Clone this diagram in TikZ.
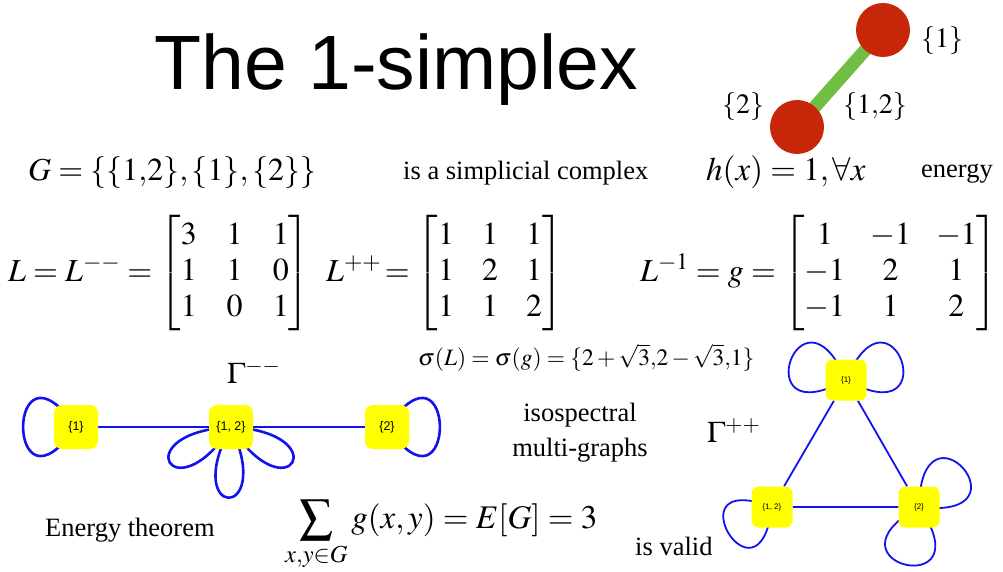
\documentclass[tikz,border=0pt]{standalone}
\usepackage{amsmath}
\usepackage{mathptmx}
\usepackage{fontspec}
\setmainfont{Liberation Serif}
\setsansfont{Liberation Sans}
\usetikzlibrary{backgrounds}
\definecolor{simpred}{RGB}{200,38,8}
\definecolor{simpgreen}{RGB}{113,190,69}
\definecolor{edgeblue}{RGB}{18,18,238}
\definecolor{vertyellow}{RGB}{255,255,0}
\setlength{\arraycolsep}{12.5pt}

\begin{document}
\begin{tikzpicture}[x=1pt, y=1pt, every node/.style={inner sep=0pt},
	txt/.style={anchor=base west, font=\fontsize{26.5}{35}\selectfont},
	mth/.style={anchor=base west, font=\fontsize{32}{36}\selectfont},
	dot/.style={circle, fill=simpred, minimum size=54pt},
	vert/.style={fill=vertyellow, rounded corners=8pt, minimum size=44pt, font=\sffamily\fontsize{12.5}{14}\selectfont},
	svert/.style={vert, minimum size=41pt, rounded corners=7pt, font=\sffamily\fontsize{8}{10}\selectfont},
	link/.style={edgeblue, line width=2.6pt},
	slink/.style={edgeblue, line width=1.8pt}]
	\useasboundingbox (0,0) rectangle (1003,-572);
	% Title and the simplex:
	\node[anchor=base west, font=\sffamily\fontsize{77}{80}\selectfont] (title) at (154,-90) {The 1-simplex};
	\node[dot] (v1) at (883,-30) {};
	\node[dot] (v2) at (797,-127) {};
	\node[font=\fontsize{28}{30}\selectfont] (l1) at (942,-41) {$\{1\}$};
	\node[font=\fontsize{28}{30}\selectfont] (l2) at (743,-107) {$\{2\}$};
	\node[font=\fontsize{28}{30}\selectfont] (l12) at (875,-107) {$\{1{,}2\}$};
	% Formulas and texts:
	\node[mth] (gset) at (28,-181) {$G=\{\{1{,}2\},\{1\},\{2\}\}$};
	\node[txt] (cplx) at (403,-180) {is a simplicial complex};
	\node[mth, font=\fontsize{33}{36}\selectfont] (hfun) at (706,-181) {$h(x)=1,\forall x$};
	\node[txt] (enrg) at (921,-178) {energy};
	\node[mth] (lmm) at (8,-281) {$\setlength{\arraycolsep}{15pt}L=L^{--}=\begin{bmatrix}3&1&1\\1&1&0\\1&0&1\end{bmatrix}$};
	\node[mth] (lpp) at (326,-281) {$\setlength{\arraycolsep}{14pt}L^{++}\!=\begin{bmatrix}1&1&1\\1&2&1\\1&1&2\end{bmatrix}$};
	\node[mth] (linv) at (640,-281) {$L^{-1}=g=\begin{bmatrix}1&-1&-1\\-1&2&1\\-1&1&2\end{bmatrix}$};
	\node[anchor=base west, font=\fontsize{23.5}{28}\selectfont] (spec) at (418,-365) {$\sigma(L)=\sigma(g)=\{2+\sqrt{3}{,}2-\sqrt{3}{,}1\}$};
	\node[anchor=base west, font=\fontsize{30}{32}\selectfont] (gmm) at (227,-383) {$\Gamma^{--}$};
	\node[anchor=base west, font=\fontsize{30}{32}\selectfont] (gpp) at (707,-442) {$\Gamma^{++}$};
	\node[font=\fontsize{26.5}{35}\selectfont, align=center] (iso) at (580,-433) {isospectral\\multi-graphs};
	\node[txt] (enth) at (45,-536) {Energy theorem};
	\node[mth, font=\fontsize{33}{36}\selectfont] (sumg) at (285,-528) {$\displaystyle\sum_{x,y\in G} g(x,y)=E[G]=3$};
	\node[txt] (valid) at (635,-555) {is valid};
	% Gamma-- graph:
	\node[vert] (a1) at (76,-427) {\{1\}};
	\node[vert] (a2) at (231,-427) {\{1, 2\}};
	\node[vert] (a3) at (387,-427) {\{2\}};
	% Gamma++ graph:
	\node[svert] (b1) at (846,-380) {\{1\}};
	\node[svert] (b2) at (772,-507) {\{1, 2\}};
	\node[svert] (b3) at (919,-507) {\{2\}};
	\begin{scope}[on background layer]
		\draw[simpgreen, line width=13pt] (v2.center) -- (v1.center);
		\draw[link] (a1) -- (a2) -- (a3);
		\draw[link] (a1.center) to[out=125, in=235, distance=123pt] (a1.center);
		\draw[link] (a3.center) to[out=55, in=-55, distance=123pt] (a3.center);
		\draw[link] (a2.center) to[out=237, in=183, distance=106pt] (a2.center);
		\draw[link] (a2.center) to[out=295, in=241, distance=106pt] (a2.center);
		\draw[link] (a2.center) to[out=357, in=303, distance=106pt] (a2.center);
		\draw[slink] (b1) -- (b2) -- (b3) -- (b1);
		\draw[slink] (b1.center) to[out=113, in=209, distance=117pt] (b1.center);
		\draw[slink] (b1.center) to[out=67, in=-29, distance=117pt] (b1.center);
		\draw[slink] (b2.center) to[out=263, in=159, distance=110pt] (b2.center);
		\draw[slink] (b3.center) to[out=89, in=-7, distance=117pt] (b3.center);
		\draw[slink] (b3.center) to[out=305, in=209, distance=118pt] (b3.center);
	\end{scope}
\end{tikzpicture}
\end{document}
